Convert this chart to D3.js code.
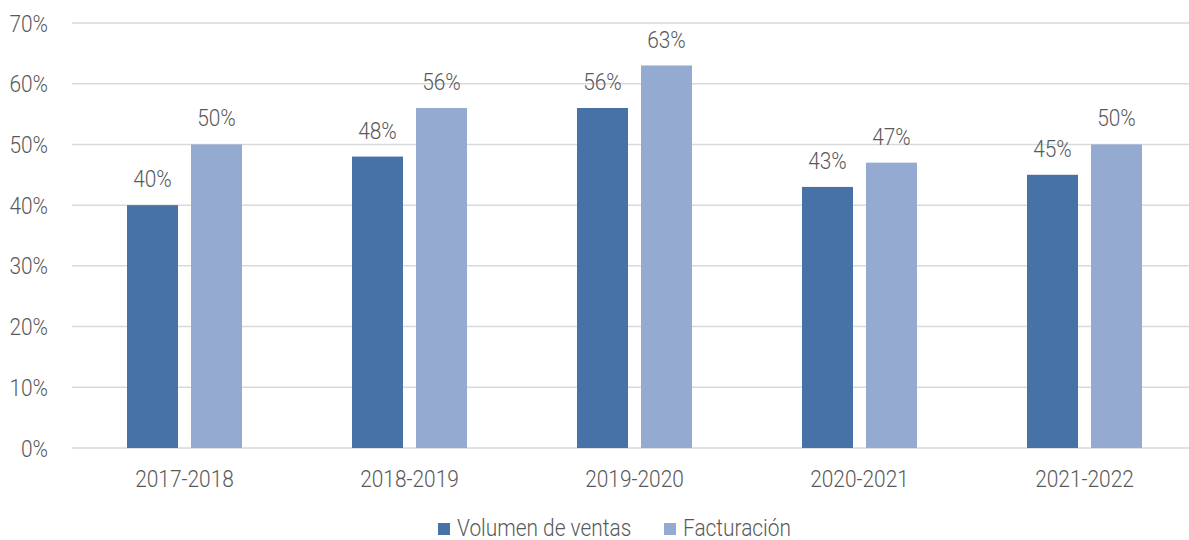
<!DOCTYPE html>
<html><head><meta charset="utf-8">
<script src="https://cdn.jsdelivr.net/npm/d3@7"></script>
<style>body{margin:0;background:#fff;} text{font-family:Roboto, sans-serif;font-weight:300;fill:#595959;}</style>
</head><body><svg id="c" width="1189" height="540"></svg>
<script>
const categories = ["2017-2018","2018-2019","2019-2020","2020-2021","2021-2022"];
const seriesNames = ["Volumen de ventas","Facturación"];
const volumen = [40,48,56,43,45];
const facturacion = [50,56,63,47,50];
const yTicks = [0,10,20,30,40,50,60,70];
const colors = ["#4672A7","#95AAD0"];

const svg = d3.select("#c");
const SX = 0.87, FS = 24;
const x = d3.scaleBand().domain(categories).range([72,1197]).paddingInner(110/225).paddingOuter(55/225);
const xs = d3.scaleBand().domain(seriesNames).range([0,x.bandwidth()]).paddingInner(13/64);
const y = d3.scaleLinear().domain([0,70]).range([448,23]);

function txt(g, tx, ty, s, anchor){
  return g.append("text").attr("transform",`translate(${tx},${ty}) scale(${SX},1)`)
    .attr("text-anchor",anchor).style("font-size",FS+"px").text(s);
}
// grid
svg.append("g").selectAll("line").data(yTicks).join("line")
  .attr("x1",72).attr("x2",1189).attr("y1",d=>y(d)).attr("y2",d=>y(d))
  .attr("stroke","#d9d9d9").attr("stroke-width",1.5);
const ga = svg.append("g");
yTicks.forEach(t=>txt(ga,48,y(t)+8.5,t+"%","end"));
categories.forEach(c=>txt(ga,x(c)+x.bandwidth()/2,487,c,"middle"));

const data = categories.map((c,i)=>({c, vals:[volumen[i],facturacion[i]]}));
const gb = svg.append("g");
data.forEach(d=>{
  d.vals.forEach((v,j)=>{
    const bx = x(d.c)+xs(seriesNames[j]);
    gb.append("rect").attr("x",bx).attr("y",y(v)).attr("width",xs.bandwidth()).attr("height",y(0)-y(v))
      .attr("fill",colors[j]);
    txt(gb,bx+xs.bandwidth()/2,y(v)-18,v+"%","middle");
  });
});
// legend
const lg = svg.append("g");
const legX = [438,664];
seriesNames.forEach((s,j)=>{
  lg.append("rect").attr("x",legX[j]).attr("y",523).attr("width",12).attr("height",12).attr("fill",colors[j]);
  txt(lg,legX[j]+19,536,s,"start");
});
</script></body></html>
